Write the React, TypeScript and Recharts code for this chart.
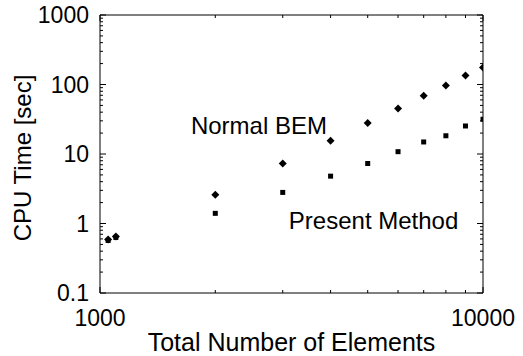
import { ReferenceDot, Scatter, ScatterChart, XAxis, YAxis } from 'recharts';

const elements = [1050, 1100, 2000, 3000, 4000, 5000, 6000, 7000, 8000, 9000, 10000];
const normalBem = [0.59, 0.65, 2.6, 7.3, 15.5, 28, 45, 69, 97, 135, 176];
const presentMethod = [0.57, 0.63, 1.4, 2.8, 4.8, 7.3, 10.8, 14.9, 18.3, 25.3, 31.6];

const xMajor = [1000, 10000];
const yMajor = [0.1, 1, 10, 100, 1000];
const xLabels = ['1000', '10000'];
const yLabels = ['0.1', '1', '10', '100', '1000'];

const minorsOf = (majors: number[]) => {
  const out: number[] = [];
  majors.slice(0, -1).forEach((m) => {
    for (let k = 2; k <= 9; k++) out.push(m * k);
  });
  return out;
};
const xTicks = [...xMajor, ...minorsOf(xMajor)].sort((a, b) => a - b);
const yTicks = [...yMajor, ...minorsOf(yMajor)].sort((a, b) => a - b);

const bemData = elements.map((n, i) => ({ n, t: normalBem[i] }));
const presentData = elements.map((n, i) => ({ n, t: presentMethod[i] }));

const FONT = '"Liberation Sans", Arial, Helvetica, sans-serif';

const Diamond = (p: any) => {
  const { cx, cy } = p;
  const r = 4;
  return <path d={`M${cx},${cy - r}L${cx + r},${cy}L${cx},${cy + r}L${cx - r},${cy}Z`} fill="#000" />;
};
const Square = (p: any) => {
  const { cx, cy } = p;
  return <rect x={cx - 2.5} y={cy - 2.5} width={5} height={5} fill="#000" />;
};

const LeftTick = (p: any) => {
  const { x, y, payload } = p;
  const i = yMajor.indexOf(payload.value);
  return (
    <g>
      <line x1={x} y1={y} x2={x + (i >= 0 ? 6 : 3)} y2={y} stroke="#000" />
      {i >= 0 && (
        <text x={x - 11} y={y} textAnchor="end" dominantBaseline="central" fontSize={23} fill="#000">
          {yLabels[i]}
        </text>
      )}
    </g>
  );
};
const RightTick = (p: any) => {
  const { x, y, payload } = p;
  const major = yMajor.includes(payload.value);
  return <line x1={x} y1={y} x2={x - (major ? 6 : 3)} y2={y} stroke="#000" />;
};
const BottomTick = (p: any) => {
  const { x, y, payload } = p;
  const i = xMajor.indexOf(payload.value);
  return (
    <g>
      <line x1={x} y1={y} x2={x} y2={y - (i >= 0 ? 6 : 3)} stroke="#000" />
      {i >= 0 && (
        <text x={x} y={y + 33} textAnchor="middle" fontSize={23} fill="#000">
          {xLabels[i]}
        </text>
      )}
    </g>
  );
};
const TopTick = (p: any) => {
  const { x, y, payload } = p;
  const major = xMajor.includes(payload.value);
  return <line x1={x} y1={y} x2={x} y2={y + (major ? 6 : 3)} stroke="#000" />;
};

export default function App() {
  return (
    <div style={{ fontFamily: FONT, width: 523, height: 356 }}>
      <style>{'body{margin:0}'}</style>
      <ScatterChart width={523} height={356} margin={{ top: 0, right: 0, bottom: 0, left: 0 }}>
        <XAxis
          xAxisId="bottom"
          dataKey="n"
          type="number"
          scale="log"
          domain={[1000, 10000]}
          allowDataOverflow
          ticks={xTicks}
          interval={0}
          height={63}
          tickSize={0}
          tickMargin={0}
          tickLine={false}
          axisLine={{ stroke: '#000' }}
          tick={<BottomTick />}
          label={{
            content: (lp: any) => {
              const vb = lp.viewBox;
              return (
                <text x={vb.x + vb.width / 2} y={vb.y + 58} textAnchor="middle" fontSize={25} fill="#000">
                  Total Number of Elements
                </text>
              );
            },
          }}
        />
        <XAxis
          xAxisId="top"
          orientation="top"
          dataKey="n"
          type="number"
          scale="log"
          domain={[1000, 10000]}
          allowDataOverflow
          ticks={xTicks}
          interval={0}
          height={15}
          tickSize={0}
          tickMargin={0}
          tickLine={false}
          axisLine={{ stroke: '#000' }}
          tick={<TopTick />}
        />
        <YAxis
          yAxisId="left"
          dataKey="t"
          type="number"
          scale="log"
          domain={[0.1, 1000]}
          allowDataOverflow
          ticks={yTicks}
          interval={0}
          width={100}
          tickSize={0}
          tickMargin={0}
          tickLine={false}
          axisLine={{ stroke: '#000' }}
          tick={<LeftTick />}
          label={{
            content: (lp: any) => {
              const vb = lp.viewBox;
              const cx = vb.x + 22;
              const cy = vb.y + vb.height / 2 + 4;
              return (
                <text
                  x={cx}
                  y={cy}
                  transform={`rotate(-90 ${cx} ${cy})`}
                  textAnchor="middle"
                  dominantBaseline="central"
                  fontSize={24}
                  fill="#000"
                >
                  CPU Time [sec]
                </text>
              );
            },
          }}
        />
        <YAxis
          yAxisId="right"
          orientation="right"
          dataKey="t"
          type="number"
          scale="log"
          domain={[0.1, 1000]}
          allowDataOverflow
          ticks={yTicks}
          interval={0}
          width={40}
          tickSize={0}
          tickMargin={0}
          tickLine={false}
          axisLine={{ stroke: '#000' }}
          tick={<RightTick />}
        />
        <Scatter
          name="Normal BEM"
          data={bemData}
          xAxisId="bottom"
          yAxisId="left"
          shape={Diamond}
          isAnimationActive={false}
        />
        <Scatter
          name="Present Method"
          data={presentData}
          xAxisId="top"
          yAxisId="right"
          shape={Square}
          isAnimationActive={false}
        />
        <ReferenceDot
          xAxisId="bottom"
          yAxisId="left"
          x={2600}
          y={26}
          r={0}
          ifOverflow="visible"
          label={{ value: 'Normal BEM', position: 'center', fontSize: 24, fill: '#000' }}
        />
        <ReferenceDot
          xAxisId="bottom"
          yAxisId="left"
          x={5180}
          y={1.12}
          r={0}
          ifOverflow="visible"
          label={{ value: 'Present Method', position: 'center', fontSize: 24, fill: '#000' }}
        />
      </ScatterChart>
    </div>
  );
}
